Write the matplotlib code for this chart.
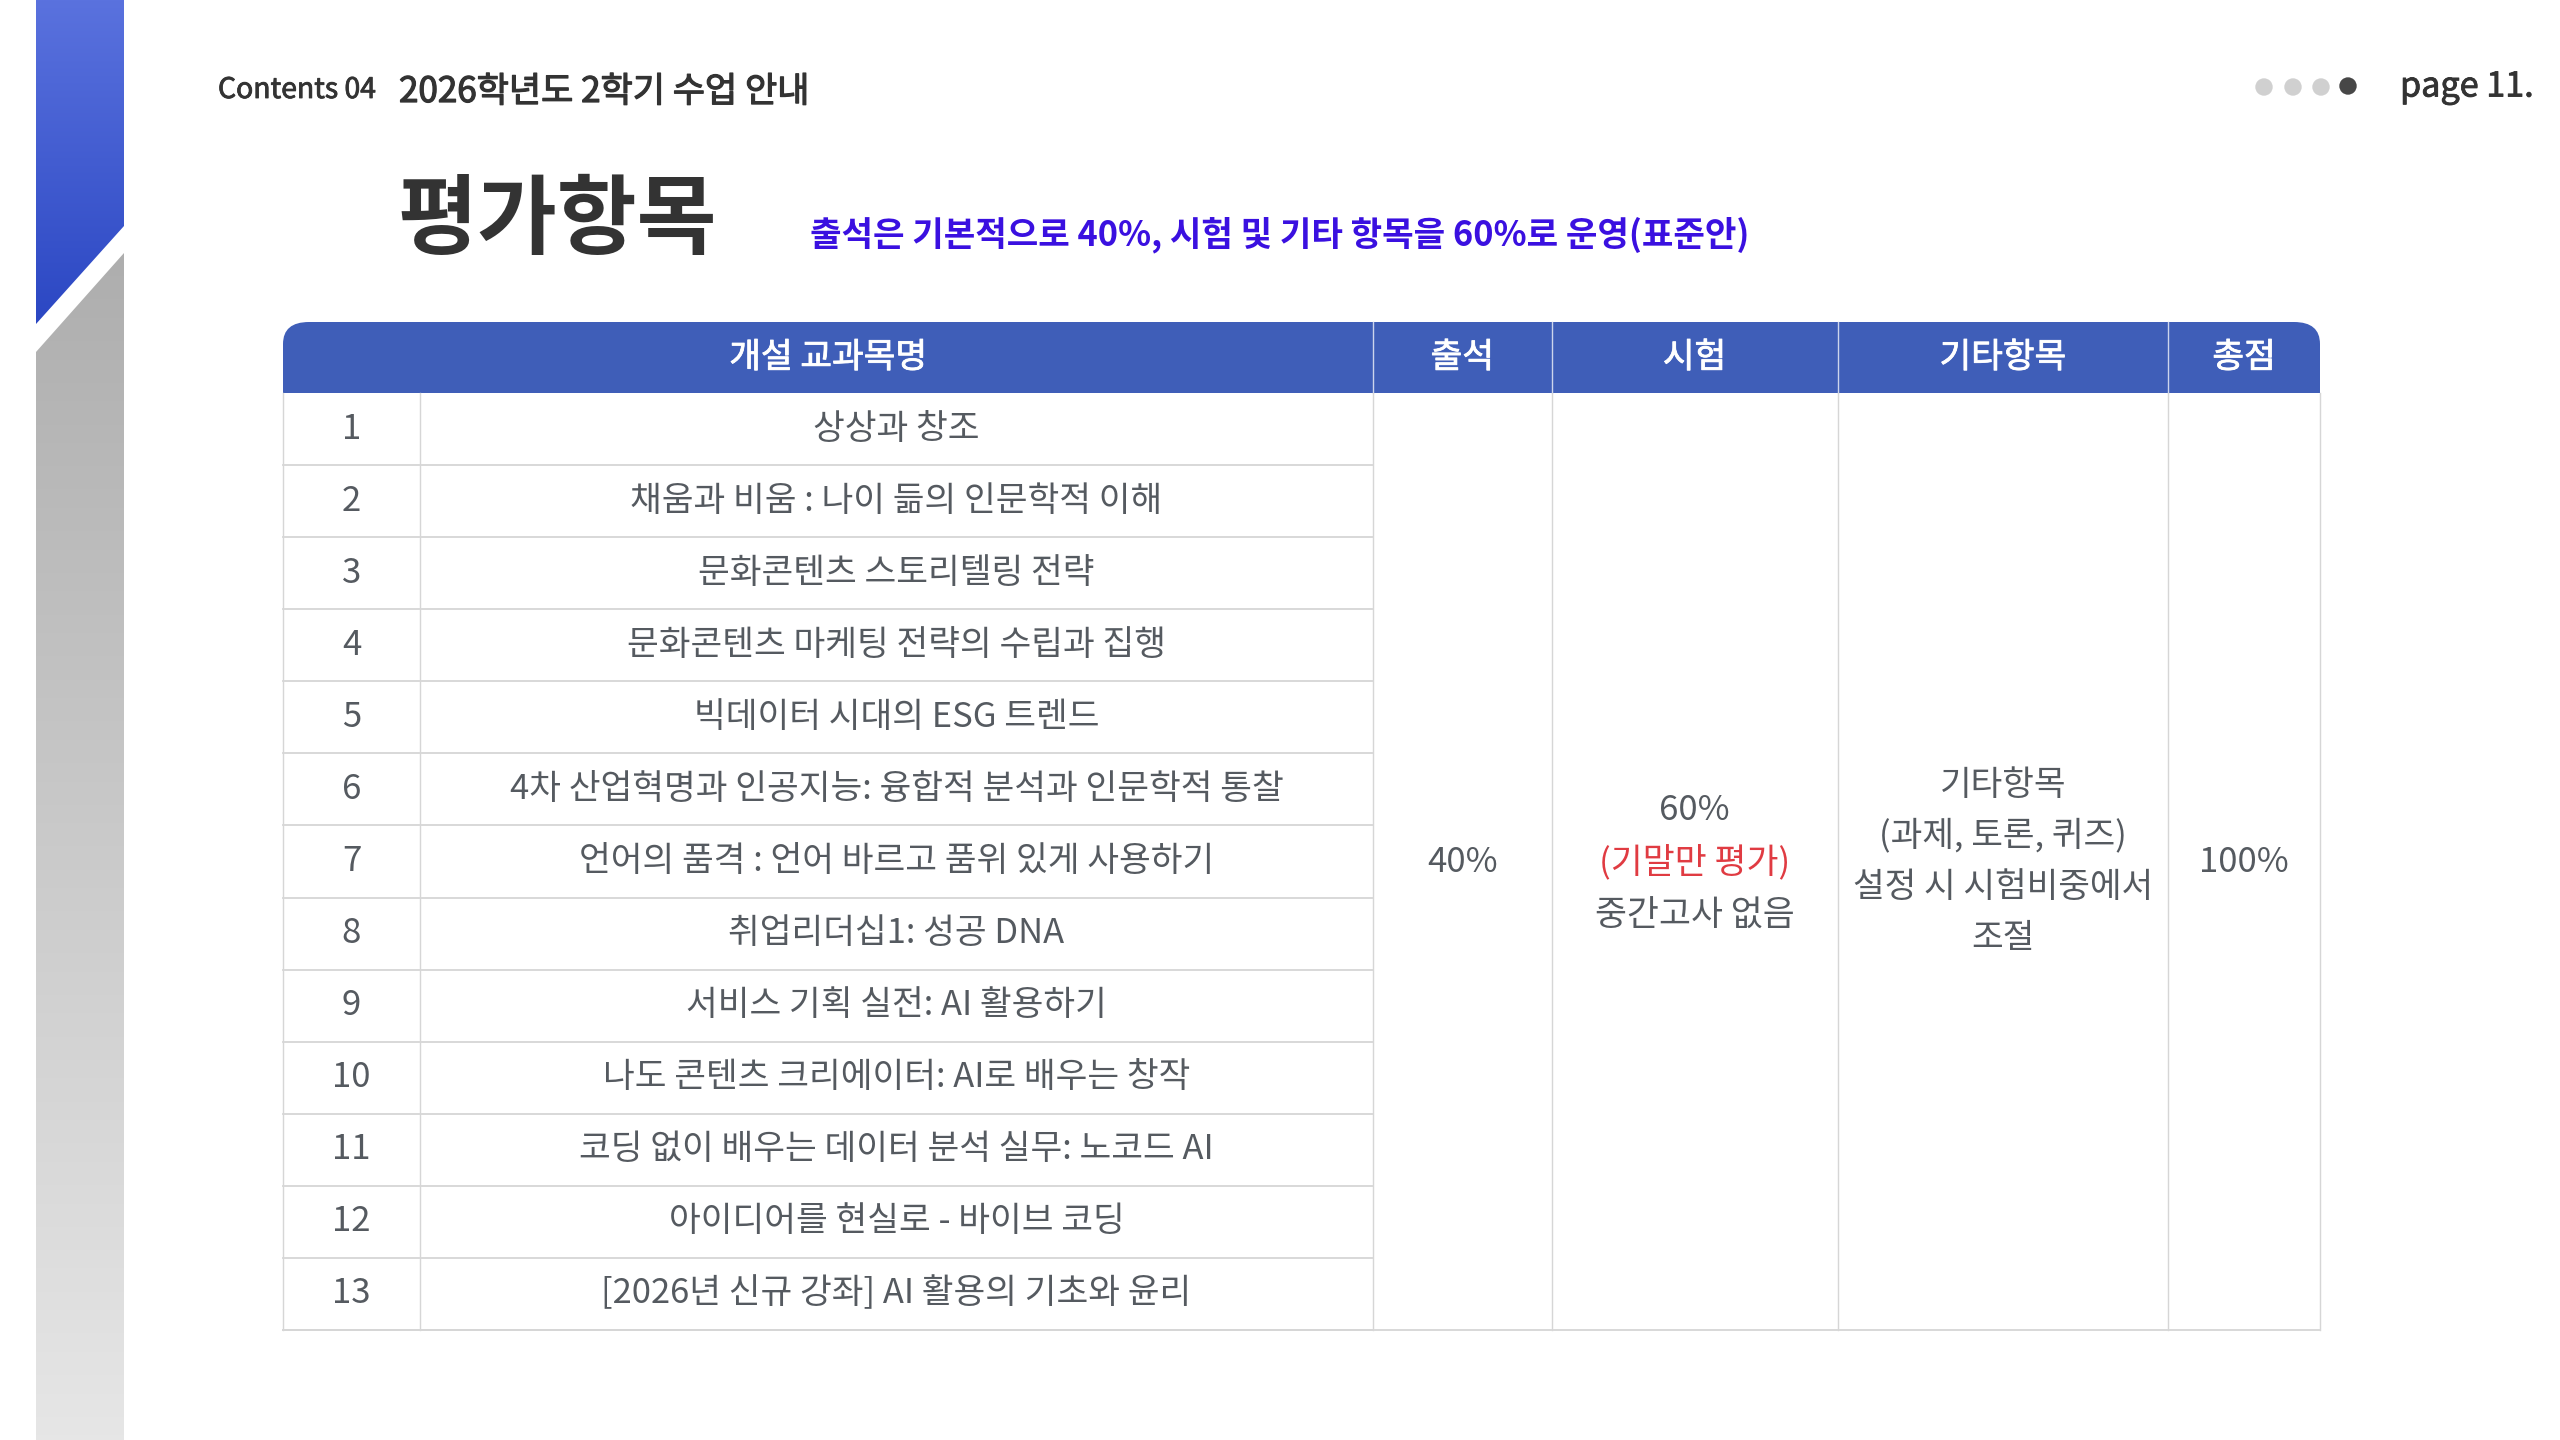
import numpy as np
import matplotlib
matplotlib.use("Agg")
import matplotlib.pyplot as plt
import matplotlib.patheffects as pe
from matplotlib.path import Path
from matplotlib.patches import PathPatch, Circle
from matplotlib.colors import LinearSegmentedColormap

FONT = ['Noto Sans CJK KR', 'DejaVu Sans']
plt.rcParams['font.family'] = FONT

section = "Contents 04"
heading = "2026학년도 2학기 수업 안내"
page = "page 11."
title = "평가항목"
subtitle = "출석은 기본적으로 40%, 시험 및 기타 항목을 60%로 운영(표준안)"
headers = ["개설 교과목명", "출석", "시험", "기타항목", "총점"]
numbers = [str(i) for i in [1, 2, 3, 4, 5, 6, 7, 8, 9, 10, 11, 12, 13]]
courses = [
    "상상과 창조",
    "채움과 비움 : 나이 듦의 인문학적 이해",
    "문화콘텐츠 스토리텔링 전략",
    "문화콘텐츠 마케팅 전략의 수립과 집행",
    "빅데이터 시대의 ESG 트렌드",
    "4차 산업혁명과 인공지능: 융합적 분석과 인문학적 통찰",
    "언어의 품격 : 언어 바르고 품위 있게 사용하기",
    "취업리더십1: 성공 DNA",
    "서비스 기획 실전: AI 활용하기",
    "나도 콘텐츠 크리에이터: AI로 배우는 창작",
    "코딩 없이 배우는 데이터 분석 실무: 노코드 AI",
    "아이디어를 현실로 - 바이브 코딩",
    "[2026년 신규 강좌] AI 활용의 기초와 윤리",
]
attendance = "40%"
exam_lines = ["60%", "(기말만 평가)", "중간고사 없음"]
other_lines = ["기타항목", "(과제, 토론, 퀴즈)", "설정 시 시험비중에서", "조절"]
total = "100%"

W, H = 2560, 1440
fig = plt.figure(figsize=(25.6, 14.4), dpi=100, facecolor='white')
ax = fig.add_axes([0, 0, 1, 1])
ax.set_xlim(0, W)
ax.set_ylim(H, 0)
ax.axis('off')

def gradient(verts, top, bottom, y0, y1):
    cmap = LinearSegmentedColormap.from_list('g', [top, bottom])
    im = ax.imshow(np.linspace(0, 1, 256)[:, None], cmap=cmap, aspect='auto',
                   extent=(verts[:, 0].min(), verts[:, 0].max(), y1, y0), zorder=1)
    p = PathPatch(Path(np.vstack([verts, verts[:1]]), closed=True), fc='none', ec='none', transform=ax.transData)
    ax.add_patch(p)
    im.set_clip_path(p)

gradient(np.array([[36, 0], [124, 0], [124, 226], [36, 324]], float), '#5a72de', '#2b47c3', 0, 324)
gradient(np.array([[124, 253], [124, 1440], [36, 1440], [36, 352]], float), '#aeaeae', '#e6e6e6', 253, 1440)
ax.set_xlim(0, W)
ax.set_ylim(H, 0)

DARK = '#333333'
GREY = '#555a60'
def T(x, y, s, size, color=GREY, weight='regular', ha='center', stroke=0):
    t = ax.text(x, y, s, fontsize=size, color=color, fontweight=weight, ha=ha, va='center', zorder=5, family=FONT)
    if stroke:
        t.set_path_effects([pe.withStroke(linewidth=stroke, foreground=color)])

T(218, 90, section, 20.4, DARK, 'regular', 'left', 0.6)
T(399, 92, heading, 25.2, DARK, 'regular', 'left', 0.9)
T(2400, 87, page, 24.6, DARK, 'regular', 'left', 0.6)
for x, y, c in [(2264, 87, '#d0d0d0'), (2293, 87, '#d0d0d0'), (2321, 87, '#d0d0d0'), (2348, 86, '#474747')]:
    ax.add_patch(Circle((x, y), 8.7, fc=c, ec='none', zorder=5))
T(397, 222, title, 62.5, DARK, 'bold', 'left')
T(810, 235, subtitle, 24.7, '#3a10e0', 'bold', 'left')

# table
L, N, C, A, E, O, R = 283, 420, 1373, 1551.5, 1837.5, 2168, 2320
TOP, HB, BOT = 322, 393, 1330
rh = (BOT - HB) / len(numbers)
rx, ry = 26, 22
HBLUE = '#3f5eb8'
verts = [(L, HB), (L, TOP + ry), (L, TOP), (L + rx, TOP), (R - rx, TOP), (R, TOP), (R, TOP + ry), (R, HB), (L, HB)]
codes = [Path.MOVETO, Path.LINETO, Path.CURVE3, Path.CURVE3, Path.LINETO, Path.CURVE3, Path.CURVE3, Path.LINETO, Path.CLOSEPOLY]
ax.add_patch(PathPatch(Path(verts, codes), fc=HBLUE, ec='none', zorder=2))
LINE = '#d6d6d6'
for x in [C, A, E, O]:
    ax.plot([x, x], [TOP, HB], color='#cdd5ec', lw=1.0, zorder=3)
for x in [L, N, C, A, E, O, R]:
    ax.plot([x, x], [HB, BOT], color=LINE, lw=1.0, zorder=3)
for i in range(1, len(numbers) + 1):
    y = HB + i * rh
    ax.plot([L, C], [y, y], color=LINE, lw=1.3, zorder=3)
ax.plot([L, R], [BOT, BOT], color=LINE, lw=1.3, zorder=3)

centers = [(L + C) / 2, (C + A) / 2, (A + E) / 2, (E + O) / 2, (O + R) / 2]
for cx, h in zip(centers, headers):
    T(cx, 358, h, 24.8, 'white', 'regular', 'center', 0.6)
midx = (N + C) / 2
for i, (n, c) in enumerate(zip(numbers, courses)):
    yc = HB + (i + .5) * rh
    T((L + N) / 2, yc, n, 25)
    T(midx, yc, c, 24.85)
T(centers[1], 862, attendance, 25)
for y, s, col in zip([810, 862, 916], exam_lines, [GREY, '#e03b42', GREY]):
    T(centers[2], y, s, 25, col)
for y, s in zip([786, 836, 888, 939], other_lines):
    T(centers[3], y, s, 24.8)
T(centers[4], 862, total, 25)

fig.savefig('out.png', dpi=100, facecolor='white')
